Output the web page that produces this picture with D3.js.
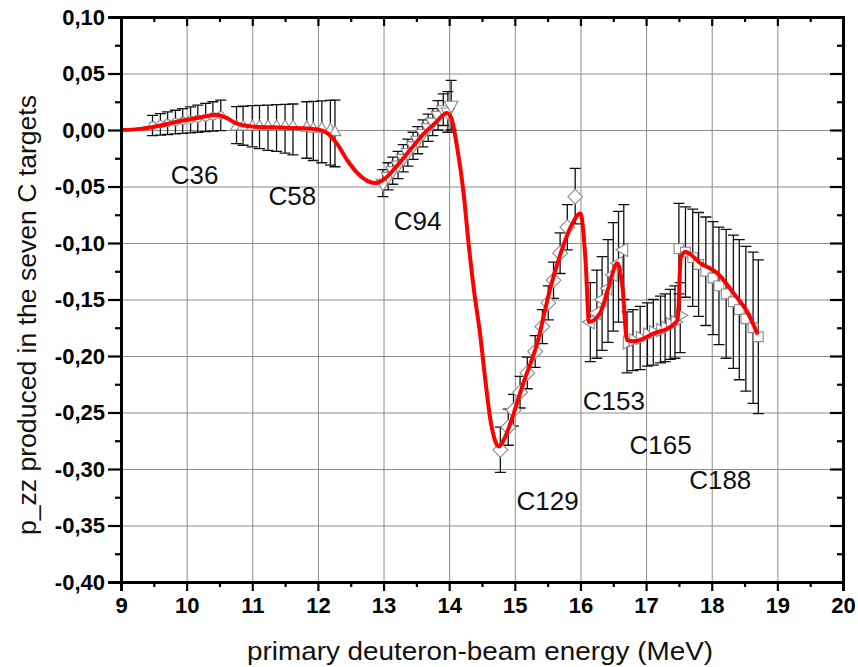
<!DOCTYPE html>
<html>
<head>
<meta charset="utf-8">
<script src="https://cdn.jsdelivr.net/npm/d3@7"></script>
<style>
  body { margin: 0; background: #fff; }
  svg { font-family: "Liberation Sans", Arial, sans-serif; }
  .grid line { stroke: #8c8c8c; stroke-width: 1; }
  .grid path { display: none; }
  .axis path { stroke: #000; stroke-width: 2.8; }
  .axis line { stroke: #000; stroke-width: 2.2; }
  .axis text { font-size: 22px; font-weight: bold; fill: #000; }
  .ebar { stroke: #111; stroke-width: 1.3; fill: none; }
  .mark { fill: #fff; stroke: #8a8a8a; stroke-width: 1.1; }
  .fit { fill: none; stroke: #ff0000; stroke-width: 4; stroke-linejoin: round; }
  .tag { font-size: 26px; fill: #111; }
  .title { font-size: 26px; fill: #111; }
</style>
</head>
<body>
<script>
// rows: [energy (MeV), p_zz, lower end of error bar, upper end of error bar]
var c36 = [
  [9.48, 0.004, -0.005, 0.013], [9.60, 0.005, -0.0045, 0.0145],
  [9.71, 0.006, -0.004, 0.016], [9.83, 0.007, -0.0035, 0.0175],
  [9.94, 0.008, -0.003, 0.019], [10.06, 0.009, -0.0025, 0.0205],
  [10.17, 0.010, -0.002, 0.022], [10.29, 0.011, -0.0015, 0.0235],
  [10.40, 0.012, -0.001, 0.025], [10.52, 0.013, -0.0005, 0.0265]
];
var c58 = [
  [10.76, 0.003, -0.012, 0.0206], [10.86, 0.003, -0.0135, 0.021],
  [11.00, 0.003, -0.015, 0.0215], [11.11, 0.003, -0.0165, 0.0218],
  [11.24, 0.003, -0.018, 0.0221], [11.37, 0.003, -0.019, 0.0224],
  [11.50, 0.003, -0.0205, 0.0227], [11.62, 0.003, -0.022, 0.023],
  [11.83, 0.002, -0.025, 0.025], [11.93, 0.001, -0.027, 0.0254],
  [12.06, 0.001, -0.029, 0.0258], [12.19, 0.000, -0.031, 0.0262],
  [12.26, -0.002, -0.0325, 0.0265]
];
var c94 = [
  [12.99, -0.047, -0.059, -0.035], [13.07, -0.041, -0.053, -0.029],
  [13.14, -0.036, -0.048, -0.024], [13.22, -0.031, -0.043, -0.019],
  [13.30, -0.025, -0.037, -0.013], [13.37, -0.020, -0.032, -0.008],
  [13.45, -0.014, -0.026, -0.002], [13.52, -0.009, -0.021, 0.003],
  [13.60, -0.003, -0.015, 0.009], [13.68, 0.002, -0.010, 0.014],
  [13.75, 0.007, -0.005, 0.019], [13.83, 0.013, 0.000, 0.026],
  [13.91, 0.018, 0.004, 0.032], [13.98, 0.016, -0.002, 0.034],
  [14.03, 0.022, 0.000, 0.044]
];
var c129 = [
  [14.78, -0.283, -0.303, -0.263], [14.90, -0.263, -0.279, -0.247],
  [14.98, -0.248, -0.262, -0.234], [15.08, -0.232, -0.246, -0.218],
  [15.19, -0.215, -0.229, -0.201], [15.31, -0.196, -0.210, -0.182],
  [15.42, -0.174, -0.189, -0.159], [15.51, -0.153, -0.168, -0.138],
  [15.59, -0.133, -0.149, -0.117], [15.69, -0.109, -0.127, -0.091],
  [15.80, -0.086, -0.106, -0.066], [15.92, -0.059, -0.083, -0.034]
];
var c153 = [
  [16.15, -0.170, -0.205, -0.135], [16.25, -0.162, -0.202, -0.124],
  [16.33, -0.150, -0.195, -0.112], [16.42, -0.140, -0.188, -0.097],
  [16.50, -0.128, -0.178, -0.082], [16.58, -0.118, -0.170, -0.072],
  [16.66, -0.106, -0.150, -0.066]
];
var c165 = [
  [16.71, -0.188, -0.215, -0.161], [16.80, -0.186, -0.213, -0.159],
  [16.91, -0.184, -0.212, -0.156], [17.02, -0.181, -0.209, -0.153],
  [17.11, -0.179, -0.208, -0.150], [17.22, -0.177, -0.206, -0.147],
  [17.29, -0.175, -0.205, -0.145], [17.37, -0.172, -0.203, -0.141],
  [17.44, -0.170, -0.202, -0.138], [17.52, -0.164, -0.197, -0.135]
];
var c188 = [
  [17.50, -0.105, -0.145, -0.065], [17.60, -0.108, -0.148, -0.068],
  [17.71, -0.113, -0.156, -0.070], [17.80, -0.119, -0.165, -0.073],
  [17.91, -0.125, -0.173, -0.077], [18.02, -0.131, -0.181, -0.081],
  [18.11, -0.138, -0.190, -0.086], [18.22, -0.145, -0.202, -0.088],
  [18.33, -0.152, -0.211, -0.093], [18.42, -0.159, -0.221, -0.097],
  [18.52, -0.167, -0.231, -0.103], [18.63, -0.175, -0.242, -0.108],
  [18.71, -0.183, -0.251, -0.115]
];

// red fit curve
var fitE = [9.0, 9.3, 9.6, 9.9, 10.2, 10.45, 10.6, 10.75, 11.0, 11.5, 12.0, 12.15,
  12.3, 12.45, 12.6, 12.75, 12.87, 13.0, 13.2, 13.4, 13.6, 13.8, 13.9, 13.96, 14.03,
  14.12, 14.22, 14.30, 14.38, 14.47, 14.55, 14.63, 14.70, 14.76, 14.85, 14.93, 15.13,
  15.34, 15.54, 15.70, 15.85, 16.00, 16.08, 16.13, 16.30, 16.43, 16.56, 16.64, 16.71,
  16.81, 17.12, 17.40, 17.48, 17.53, 17.60, 17.83, 18.09, 18.34, 18.55, 18.70];
var fitP = [0.000, 0.001, 0.004, 0.008, 0.011, 0.0135, 0.011, 0.006, 0.003, 0.002, 0.0005, -0.003,
  -0.013, -0.027, -0.038, -0.045, -0.047, -0.044, -0.032, -0.018, -0.004, 0.007, 0.013, 0.015, 0.011,
  -0.015, -0.056, -0.103, -0.143, -0.180, -0.221, -0.257, -0.275, -0.280, -0.272, -0.260, -0.224,
  -0.189, -0.140, -0.109, -0.086, -0.074, -0.118, -0.170, -0.162, -0.139, -0.118, -0.139, -0.186,
  -0.187, -0.180, -0.173, -0.168, -0.112, -0.108, -0.118, -0.127, -0.145, -0.162, -0.181];

// labels of the seven targets, placed near their points
var tagNames = ["C36", "C58", "C94", "C129", "C153", "C165", "C188"];
var tagE = [10.12, 11.61, 13.52, 15.50, 16.51, 17.22, 18.13];
var tagP = [-0.040, -0.058, -0.080, -0.328, -0.240, -0.279, -0.310];

var xTicks = [9, 10, 11, 12, 13, 14, 15, 16, 17, 18, 19, 20];
var yTicks = [0.10, 0.05, 0.00, -0.05, -0.10, -0.15, -0.20, -0.25, -0.30, -0.35, -0.40];

//begin script when window loads
window.onload = drawChart;

function drawChart(){
    var W = 858, H = 667;
    var margin = {top: 17, right: 15, bottom: 85, left: 121};
    var w = W - margin.left - margin.right,
        h = H - margin.top - margin.bottom;

    var svg = d3.select("body").append("svg")
        .attr("width", W)
        .attr("height", H);

    var g = svg.append("g")
        .attr("transform", "translate(" + margin.left + "," + margin.top + ")");

    var x = d3.scaleLinear().domain([9, 20]).range([0, w]);
    var y = d3.scaleLinear().domain([-0.40, 0.10]).range([h, 0]);

    var loc = d3.formatLocale({decimal: ",", thousands: ".", grouping: [3], currency: ["", ""], minus: "-"});
    var fmt = loc.format(".2f");

    var xMinor = d3.range(9.5, 20, 1);
    var yMinor = d3.range(-0.375, 0.1, 0.05);

    //grid lines
    g.append("g").attr("class", "grid")
        .attr("transform", "translate(0," + h + ")")
        .call(d3.axisBottom(x).tickValues(xTicks).tickSize(-h).tickFormat(""));
    g.append("g").attr("class", "grid")
        .call(d3.axisLeft(y).tickValues(yTicks).tickSize(-w).tickFormat(""));

    //data sets: error bars then open markers
    var sets = [
        {rows: c36, sym: d3.symbolCircle, size: 40, rot: 0},
        {rows: c58, sym: d3.symbolTriangle, size: 60, rot: 0},
        {rows: c94, sym: d3.symbolTriangle, size: 80, rot: 180},
        {rows: c129, sym: d3.symbolSquare, size: 110, rot: 45},
        {rows: c153, sym: d3.symbolTriangle, size: 80, rot: -90},
        {rows: c165, sym: d3.symbolTriangle, size: 75, rot: 90},
        {rows: c188, sym: d3.symbolSquare, size: 95, rot: 0}
    ];

    var cap = 5.5;
    sets.forEach(function(s){
        g.append("g").selectAll(".ebar")
            .data(s.rows)
            .enter()
            .append("path")
            .attr("class", "ebar")
            .attr("d", function(d){
                var cx = x(d[0]), y0 = y(d[2]), y1 = y(d[3]);
                return "M" + cx + "," + y0 + "V" + y1 +
                    "M" + (cx - cap) + "," + y0 + "H" + (cx + cap) +
                    "M" + (cx - cap) + "," + y1 + "H" + (cx + cap);
            });
    });
    sets.forEach(function(s){
        g.append("g").selectAll(".mark")
            .data(s.rows)
            .enter()
            .append("path")
            .attr("class", "mark")
            .attr("d", d3.symbol().type(s.sym).size(s.size))
            .attr("transform", function(d){
                return "translate(" + x(d[0]) + "," + y(d[1]) + ") rotate(" + s.rot + ")";
            });
    });

    //red fit curve
    var line = d3.line()
        .x(function(d){ return x(d); })
        .y(function(d, i){ return y(fitP[i]); })
        .curve(d3.curveMonotoneX);
    g.append("path")
        .attr("class", "fit")
        .attr("d", line(fitE));

    //axes, ticks out on left/bottom, in on top/right
    g.append("g").attr("class", "axis")
        .attr("transform", "translate(0," + h + ")")
        .call(d3.axisBottom(x).tickValues(xTicks).tickSize(9).tickPadding(6).tickFormat(d3.format("d")));
    g.append("g").attr("class", "axis")
        .attr("transform", "translate(0," + h + ")")
        .call(d3.axisBottom(x).tickValues(xMinor).tickSize(5).tickFormat(""));
    g.append("g").attr("class", "axis")
        .call(d3.axisLeft(y).tickValues(yTicks).tickSize(13).tickPadding(3).tickFormat(fmt));
    g.append("g").attr("class", "axis")
        .call(d3.axisLeft(y).tickValues(yMinor).tickSize(6).tickFormat(""));
    g.append("g").attr("class", "axis")
        .call(d3.axisTop(x).tickValues(xTicks).tickSize(-9).tickFormat(""));
    g.append("g").attr("class", "axis")
        .call(d3.axisTop(x).tickValues(xMinor).tickSize(-5).tickFormat(""));
    g.append("g").attr("class", "axis")
        .attr("transform", "translate(" + w + ",0)")
        .call(d3.axisRight(y).tickValues(yTicks).tickSize(-13).tickFormat(""));
    g.append("g").attr("class", "axis")
        .attr("transform", "translate(" + w + ",0)")
        .call(d3.axisRight(y).tickValues(yMinor).tickSize(-6).tickFormat(""));

    //target labels
    g.selectAll(".tag")
        .data(tagNames)
        .enter()
        .append("text")
        .attr("class", "tag")
        .attr("x", function(d, i){ return x(tagE[i]); })
        .attr("y", function(d, i){ return y(tagP[i]); })
        .attr("text-anchor", "middle")
        .attr("dy", "0.35em")
        .text(function(d){ return d; });

    //axis titles
    svg.append("text")
        .attr("class", "title")
        .attr("x", 480)
        .attr("y", 660)
        .attr("text-anchor", "middle")
        .attr("textLength", 466)
        .attr("lengthAdjust", "spacingAndGlyphs")
        .text("primary deuteron-beam energy (MeV)");
    svg.append("text")
        .attr("class", "title")
        .attr("transform", "translate(36," + 315 + ") rotate(-90)")
        .attr("text-anchor", "middle")
        .attr("textLength", 440)
        .attr("lengthAdjust", "spacingAndGlyphs")
        .text("p_zz produced in the seven C targets");
};
</script>
</body>
</html>
